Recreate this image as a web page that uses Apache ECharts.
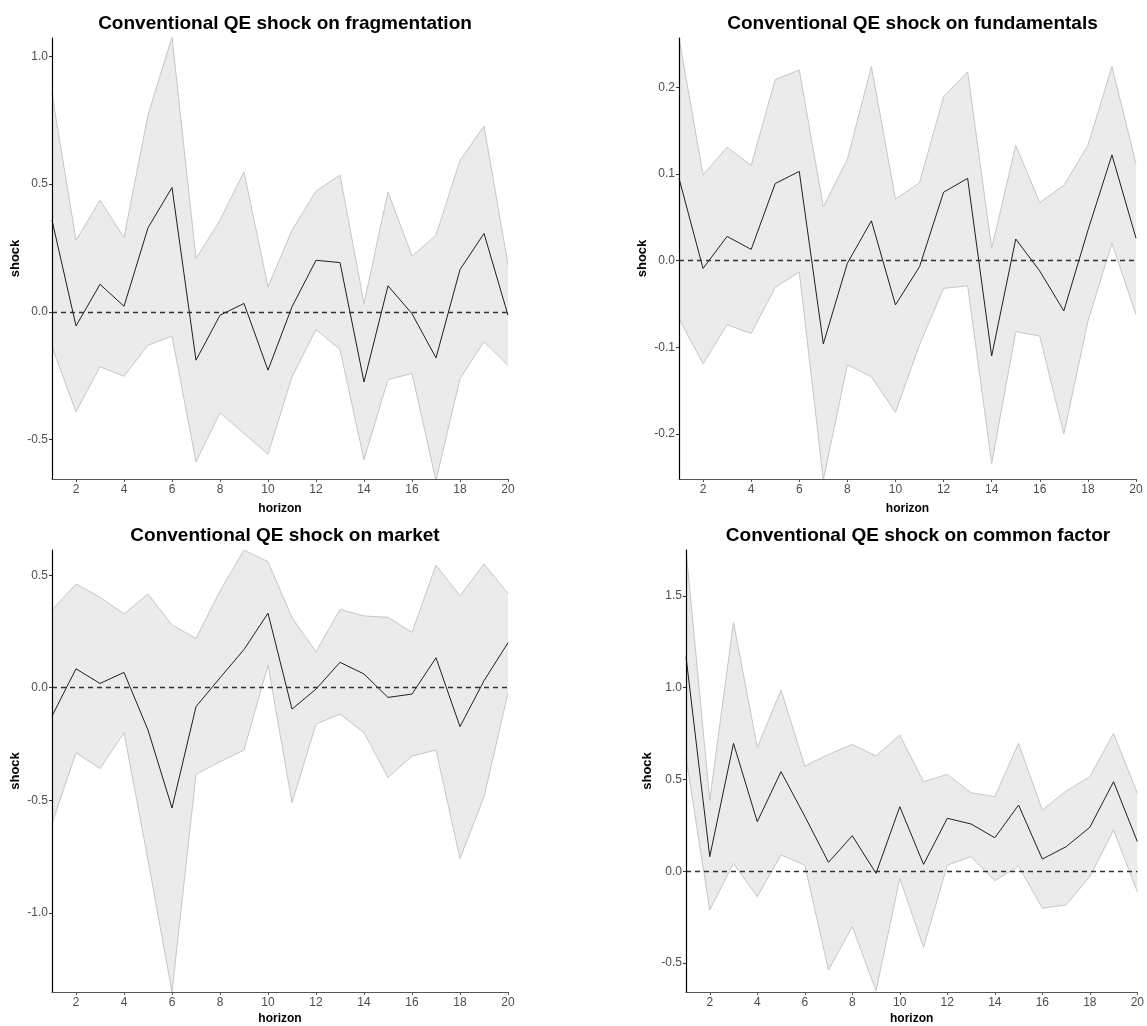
<!DOCTYPE html>
<html>
<head>
<meta charset="utf-8">
<title>Conventional QE shock responses</title>
<script src="https://cdn.jsdelivr.net/npm/echarts@6/dist/echarts.min.js"></script>
<style>
  html, body { margin: 0; padding: 0; background: #ffffff; }
  #chart { width: 1147px; height: 1026px; }
</style>
</head>
<body>
<div id="chart"></div>
<script>
// Impulse responses over 20 horizons: point estimate with lower/upper bands
const horizons = [1,2,3,4,5,6,7,8,9,10,11,12,13,14,15,16,17,18,19,20];
const xTicks = [2,4,6,8,10,12,14,16,18,20];

const fragMean  = [0.359,-0.055,0.108,0.022,0.329,0.487,-0.189,-0.013,0.033,-0.228,0.020,0.202,0.193,-0.274,0.102,-0.007,-0.180,0.166,0.307,-0.013];
const fragUpper = [0.854,0.280,0.437,0.291,0.770,1.076,0.209,0.359,0.548,0.098,0.320,0.473,0.535,0.033,0.470,0.218,0.300,0.593,0.727,0.185];
const fragLower = [-0.137,-0.391,-0.215,-0.252,-0.130,-0.095,-0.587,-0.395,-0.476,-0.557,-0.254,-0.069,-0.147,-0.578,-0.265,-0.241,-0.660,-0.261,-0.117,-0.209];
const fragTicks = [-0.5,0,0.5,1.0];

const fundMean  = [0.095,-0.009,0.028,0.013,0.089,0.103,-0.096,-0.003,0.046,-0.051,-0.007,0.079,0.095,-0.110,0.025,-0.012,-0.058,0.035,0.122,0.026];
const fundUpper = [0.257,0.099,0.131,0.110,0.209,0.220,0.062,0.117,0.224,0.071,0.090,0.189,0.218,0.014,0.133,0.067,0.087,0.133,0.224,0.112];
const fundLower = [-0.067,-0.119,-0.074,-0.084,-0.031,-0.013,-0.253,-0.120,-0.134,-0.175,-0.097,-0.032,-0.029,-0.234,-0.082,-0.087,-0.200,-0.070,0.020,-0.062];
const fundTicks = [-0.2,-0.1,0,0.1,0.2];

const mktMean  = [-0.126,0.084,0.019,0.068,-0.188,-0.534,-0.084,0.044,0.170,0.331,-0.095,-0.006,0.113,0.061,-0.043,-0.028,0.133,-0.173,0.031,0.200];
const mktUpper = [0.345,0.461,0.402,0.328,0.416,0.279,0.219,0.430,0.612,0.560,0.311,0.160,0.348,0.319,0.313,0.246,0.545,0.408,0.550,0.419];
const mktLower = [-0.603,-0.289,-0.359,-0.200,-0.765,-1.352,-0.385,-0.329,-0.277,0.101,-0.511,-0.162,-0.117,-0.200,-0.399,-0.304,-0.277,-0.759,-0.485,-0.022];
const mktTicks = [-1.0,-0.5,0,0.5];

const comMean  = [1.169,0.080,0.697,0.270,0.543,0.300,0.049,0.194,-0.011,0.352,0.038,0.289,0.258,0.183,0.361,0.067,0.134,0.240,0.488,0.162];
const comUpper = [1.750,0.388,1.356,0.675,0.987,0.573,0.637,0.691,0.628,0.742,0.488,0.528,0.428,0.407,0.697,0.334,0.437,0.515,0.751,0.425];
const comLower = [0.620,-0.210,0.044,-0.138,0.089,0.034,-0.537,-0.301,-0.650,-0.038,-0.414,0.034,0.080,-0.051,0.029,-0.201,-0.183,-0.029,0.225,-0.111];
const comTicks = [-0.5,0,0.5,1.0,1.5];

const FONT = '"Liberation Sans", Arial, sans-serif';
const BAND_FILL = '#ebebeb';
const BAND_EDGE = '#c6c6c6';

// Panel layout: plot rectangle and y range of each facet
const panels = [
  { title: 'Conventional QE shock on fragmentation', mean: fragMean, upper: fragUpper, lower: fragLower, ticks: fragTicks,
    left: 52,  top: 38,  width: 456, height: 441, ymin: -0.654, ymax: 1.072, yGap: 30, xGap: 24, titleTop: 9 },
  { title: 'Conventional QE shock on fundamentals', mean: fundMean, upper: fundUpper, lower: fundLower, ticks: fundTicks,
    left: 679, top: 38,  width: 457, height: 441, ymin: -0.252, ymax: 0.257, yGap: 30, xGap: 24, titleTop: 9 },
  { title: 'Conventional QE shock on market', mean: mktMean, upper: mktUpper, lower: mktLower, ticks: mktTicks,
    left: 52,  top: 550, width: 456, height: 442, ymin: -1.352, ymax: 0.612, yGap: 30, xGap: 21, titleTop: 521 },
  { title: 'Conventional QE shock on common factor', mean: comMean, upper: comUpper, lower: comLower, ticks: comTicks,
    left: 686, top: 550, width: 454, height: 442, ymin: -0.657, ymax: 1.75, yGap: 32, xGap: 21, titleTop: 521 }
];

const grids = [], xAxes = [], yAxes = [], titles = [], series = [];

panels.forEach((p, i) => {
  grids.push({ left: p.left, top: p.top, width: p.width, height: p.height, containLabel: false });

  titles.push({
    text: p.title,
    left: p.left + p.width / 2,
    top: p.titleTop,
    textAlign: 'center',
    textStyle: { fontFamily: FONT, fontSize: 19, fontWeight: 'bold', color: '#000000' }
  });

  // axes sit on their own layer so the band never covers the axis lines
  xAxes.push({
    gridIndex: i, type: 'value', min: 1, max: 20, zlevel: 1, z: 10,
    name: 'horizon', nameLocation: 'middle', nameGap: p.xGap,
    nameTextStyle: { fontFamily: FONT, fontSize: 12, fontWeight: 'bold', color: '#000000' },
    axisLine: { show: true, onZero: false, lineStyle: { color: '#555555', width: 1.2 } },
    axisTick: { show: true, length: 3, customValues: xTicks, lineStyle: { color: '#555555' } },
    axisLabel: { customValues: xTicks, margin: 5, fontFamily: FONT, fontSize: 12, color: '#4d4d4d' },
    splitLine: { show: false }
  });

  yAxes.push({
    gridIndex: i, type: 'value', min: p.ymin, max: p.ymax, zlevel: 1, z: 10,
    name: 'shock', nameLocation: 'middle', nameGap: p.yGap, nameRotate: 90,
    nameTextStyle: { fontFamily: FONT, fontSize: 13, fontWeight: 'bold', color: '#000000' },
    axisLine: { show: true, onZero: false, lineStyle: { color: '#000000', width: 1.2 } },
    axisTick: { show: true, length: 3, customValues: p.ticks, lineStyle: { color: '#333333' } },
    axisLabel: { customValues: p.ticks, margin: 4, fontFamily: FONT, fontSize: 12, color: '#4d4d4d',
                 formatter: v => Number(v).toFixed(1) },
    splitLine: { show: false }
  });

  // confidence band: one polygon from the upper bound out and the lower bound back
  series.push({
    type: 'custom', xAxisIndex: i, yAxisIndex: i, clip: true, silent: true, z: 1,
    data: [[horizons[0], p.lower[0]]],
    renderItem: (params, api) => {
      const pts = [];
      horizons.forEach((h, k) => pts.push(api.coord([h, p.upper[k]])));
      for (let k = horizons.length - 1; k >= 0; k--) pts.push(api.coord([horizons[k], p.lower[k]]));
      return { type: 'polygon', shape: { points: pts }, style: { fill: BAND_FILL, stroke: null } };
    }
  });
  // band edges
  [p.upper, p.lower].forEach(bound => {
    series.push({
      type: 'line', xAxisIndex: i, yAxisIndex: i,
      data: horizons.map((h, k) => [h, bound[k]]),
      symbol: 'none', silent: true, z: 2,
      lineStyle: { color: BAND_EDGE, width: 1 }
    });
  });

  // point estimate with a dashed zero reference
  series.push({
    type: 'line', xAxisIndex: i, yAxisIndex: i,
    data: horizons.map((h, k) => [h, p.mean[k]]),
    symbol: 'none', silent: true, z: 3,
    lineStyle: { color: '#1f1f1f', width: 1 },
    markLine: {
      silent: true, symbol: ['none', 'none'], label: { show: false },
      lineStyle: { color: '#333333', width: 1.3, type: [5, 4] },
      data: [{ yAxis: 0 }]
    }
  });
});

const chart = echarts.init(document.getElementById('chart'), null, { renderer: 'canvas' });
chart.setOption({
  backgroundColor: '#ffffff',
  animation: false,
  title: titles,
  grid: grids,
  xAxis: xAxes,
  yAxis: yAxes,
  series: series
});
</script>
</body>
</html>
